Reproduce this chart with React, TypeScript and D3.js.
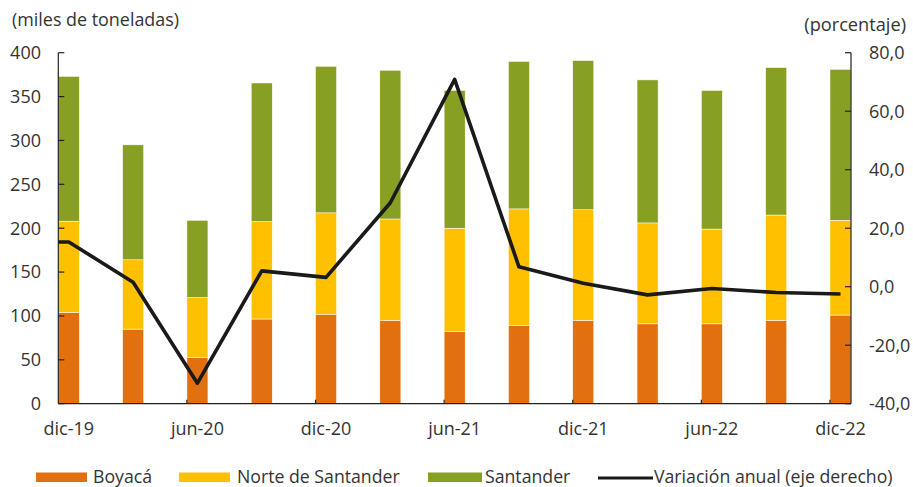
import React from "react";
import * as d3 from "d3";

// quarters shown on the x axis
const periods = [
  "dic-19", "mar-20", "jun-20", "sep-20", "dic-20", "mar-21", "jun-21",
  "sep-21", "dic-21", "mar-22", "jun-22", "sep-22", "dic-22",
];

// miles de toneladas
const boyaca = [104, 85, 53, 96.5, 102, 95, 82, 89, 95, 91, 91, 95, 101];
const norteSantander = [104, 79, 68, 111, 115.5, 115.5, 118, 133, 126, 115, 108, 120, 108];
const santander = [165, 131, 88, 158, 167, 169.5, 157, 168, 170, 163, 158, 168, 172];

// variación anual (%), eje derecho
const variacion = [15.3, 1.5, -33.0, 5.4, 3.2, 28.7, 70.9, 6.8, 1.2, -2.8, -0.6, -2.0, -2.5];

const leftTicks = [0, 50, 100, 150, 200, 250, 300, 350, 400];
const rightTicks = [-40, -20, 0, 20, 40, 60, 80];

const seriesNames = ["Boyacá", "Norte de Santander", "Santander"];
const colors = ["#E3700E", "#FFC000", "#87A024"];

const W = 913;
const H = 487;
const margin = { left: 58.3, right: 62, top: 52.7, bottom: 83.3 };
const FONT = "'Open Sans', 'Noto Sans', sans-serif";
const TEXT = "#333";

export default function App() {
  const x = d3
    .scaleBand()
    .domain(periods)
    .range([margin.left, W - margin.right])
    .paddingInner(0.673)
    .paddingOuter(0);

  const yL = d3.scaleLinear().domain([0, 400]).range([H - margin.bottom, margin.top]);
  const yR = d3.scaleLinear().domain([-40, 80]).range([H - margin.bottom, margin.top]);

  const rows = periods.map((p, i) => ({
    period: p,
    "Boyacá": boyaca[i],
    "Norte de Santander": norteSantander[i],
    Santander: santander[i],
  }));
  const stacked = d3.stack<any>().keys(seriesNames)(rows);

  const bw = x.bandwidth();
  const cx = (p: string) => (x(p) as number) + bw / 2;

  // the line starts at the left axis with the first value
  const linePts: [number, number][] = [[x.range()[0], yR(variacion[0])]];
  periods.forEach((p, i) => linePts.push([cx(p), yR(variacion[i])]));
  const linePath = d3.line()(linePts);

  const x0 = x.range()[0];
  const x1 = x.range()[1];
  const yBase = yL(0);

  const fmtR = (v: number) => d3.format(".1f")(v).replace(".", ",").replace("−", "-");

  const legend = [
    { type: "rect", color: colors[0], label: "Boyacá", x: 36, w: 51, tx: 93 },
    { type: "rect", color: colors[1], label: "Norte de Santander", x: 179, w: 51, tx: 237 },
    { type: "rect", color: colors[2], label: "Santander", x: 428, w: 54, tx: 485 },
    { type: "line", color: "#1a1a1a", label: "Variación anual (eje derecho)", x: 598, w: 55, tx: 654 },
  ];

  return (
    <svg
      width={W}
      height={H}
      style={{ position: "absolute", left: 0, top: 0, background: "#fff" }}
      fontFamily={FONT}
    >
      {/* bars */}
      {stacked.map((s, si) => (
        <g key={s.key} fill={colors[si]}>
          {s.map((d, i) => (
            <rect
              key={i}
              x={x(periods[i])}
              y={yL(d[1])}
              width={bw}
              height={yL(d[0]) - yL(d[1])}
              stroke="#fff"
              strokeWidth={0.5}
            />
          ))}
        </g>
      ))}

      {/* axes */}
      <g stroke="#222" strokeWidth={1.2} fill="none">
        <line x1={x0} x2={x0} y1={yL(400)} y2={yBase} />
        <line x1={x1} x2={x1} y1={yR(80)} y2={yBase} />
        <line x1={x0} x2={x1} y1={yBase} y2={yBase} />
        {leftTicks.map((t) => (
          <line key={t} x1={x0} x2={x0 + 6} y1={yL(t)} y2={yL(t)} />
        ))}
        {rightTicks.map((t) => (
          <line key={t} x1={x1 - 6} x2={x1} y1={yR(t)} y2={yR(t)} />
        ))}
        {periods.map((p, i) =>
          i % 2 === 0 && i > 0 ? (
            <line key={p} x1={x(p)} x2={x(p)} y1={yBase} y2={yBase - 4} />
          ) : null
        )}
      </g>

      {/* line */}
      <path d={linePath || ""} fill="none" stroke="#1a1a1a" strokeWidth={3.6} strokeLinejoin="round" />

      {/* tick labels */}
      <g fontSize={18} fill={TEXT}>
        {leftTicks.map((t) => (
          <text key={t} x={41} y={yL(t)} dy="0.35em" textAnchor="end">
            {t}
          </text>
        ))}
        {rightTicks.map((t) => (
          <text key={t} x={869} y={yR(t)} dy="0.35em" textAnchor="start">
            {fmtR(t)}
          </text>
        ))}
        {periods.map((p, i) =>
          i % 2 === 0 ? (
            <text key={p} x={cx(p)} y={434.5} textAnchor="middle">
              {p}
            </text>
          ) : null
        )}
      </g>
      <text x={12} y={26} fontSize={17.9} fill={TEXT}>(miles de toneladas)</text>
      <text x={906} y={31} fontSize={18.2} fill={TEXT} textAnchor="end">(porcentaje)</text>

      {/* legend */}
      <g fontSize={17.7} fill={TEXT}>
        {legend.map((l) => (
          <g key={l.label}>
            {l.type === "rect" ? (
              <rect x={l.x} y={472.5} width={l.w} height={9.5} fill={l.color} />
            ) : (
              <line x1={l.x} x2={l.x + l.w} y1={478} y2={478} stroke={l.color} strokeWidth={3} />
            )}
            <text x={l.tx} y={483}>{l.label}</text>
          </g>
        ))}
      </g>
    </svg>
  );
}
